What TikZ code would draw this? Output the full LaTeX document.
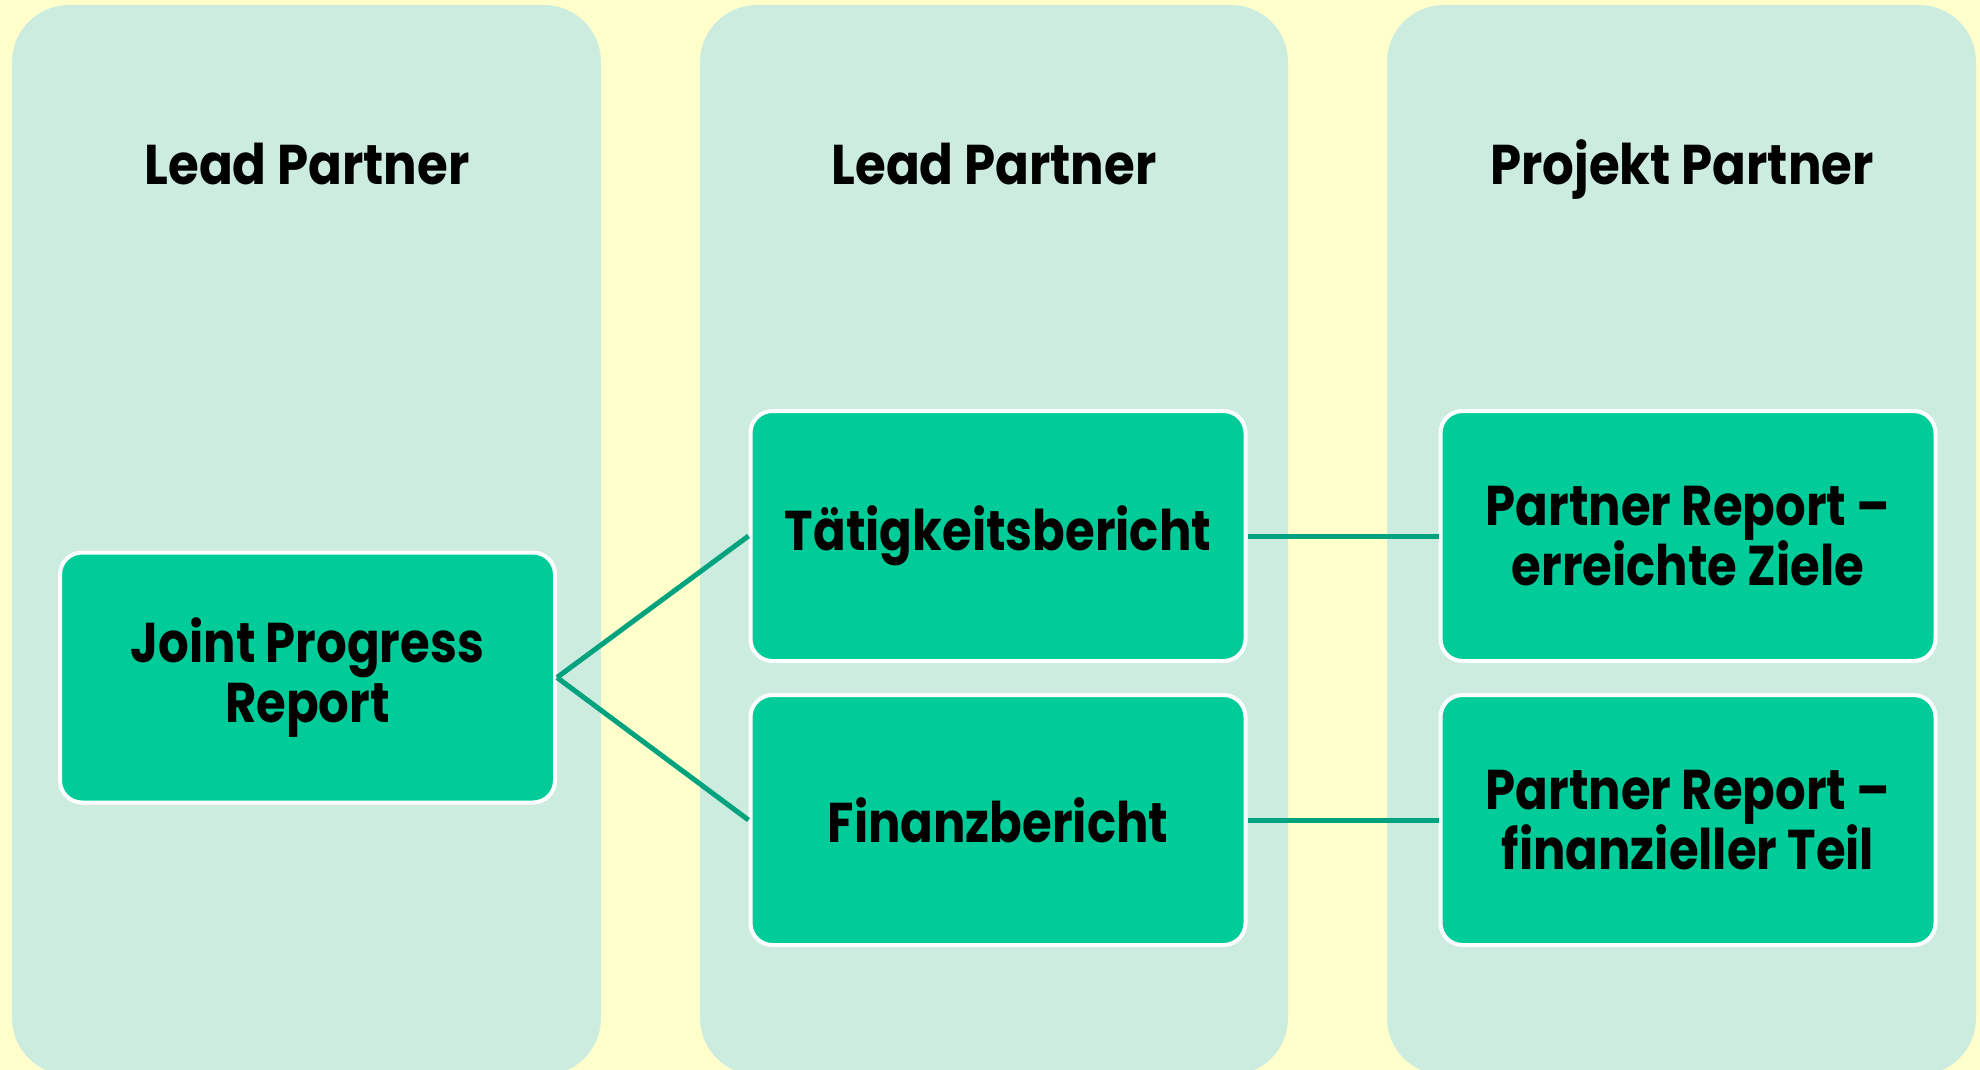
\documentclass[tikz,border=0pt]{standalone}
\usepackage{fontspec}
\setmainfont{Poppins}[FakeStretch=0.89]
\newfontfamily\boxfont{Poppins}[FakeStretch=0.86]
\definecolor{bgyellow}{RGB}{255,255,204}
\definecolor{colmint}{RGB}{204,236,224}
\definecolor{boxgreen}{RGB}{0,204,153}
\definecolor{linegreen}{RGB}{0,163,125}
\tikzset{
  column/.style={fill=colmint, draw=none, rounded corners=57pt},
  title/.style={font=\fontsize{56}{59}\selectfont\bfseries, anchor=base, inner sep=0pt},
  repbox/.style={fill=boxgreen, draw=white, line width=4pt, rounded corners=22pt,
    minimum width=495pt, minimum height=250pt, align=center, inner sep=0pt,
    font=\boxfont\fontsize{56}{60}\selectfont\bfseries},
  conn/.style={draw=linegreen, line width=5pt}
}
\begin{document}
\begin{tikzpicture}[x=1pt,y=-1pt]
\useasboundingbox (0,0) rectangle (1980,1070);
\fill[bgyellow] (0,0) rectangle (1980,1070);
\fill[column] (12,5) rectangle (601,1075);
\fill[column] (700,5) rectangle (1288,1075);
\fill[column] (1387,5) rectangle (1976,1075);
\node[title] (t1) at (307,184) {Lead Partner};
\node[title] (t2) at (994,184) {Lead Partner};
\node[title] (t3) at (1682,184) {Projekt Partner};
\node[repbox] (jpr) at (307.5,677.5) {Joint Progress\\Report};
\node[repbox] (tat) at (998,536) {Tätigkeitsbericht};
\node[repbox] (fin) at (998,820) {Finanzbericht};
\node[repbox] (pr1) at (1688,536) {Partner Report –\\erreichte Ziele};
\node[repbox] (pr2) at (1688,820) {Partner Report –\\finanzieller Teil};
\draw[conn] (jpr.east) -- (tat.west);
\draw[conn] (jpr.east) -- (fin.west);
\draw[conn] (tat.east) -- (pr1.west);
\draw[conn] (fin.east) -- (pr2.west);
\end{tikzpicture}
\end{document}
